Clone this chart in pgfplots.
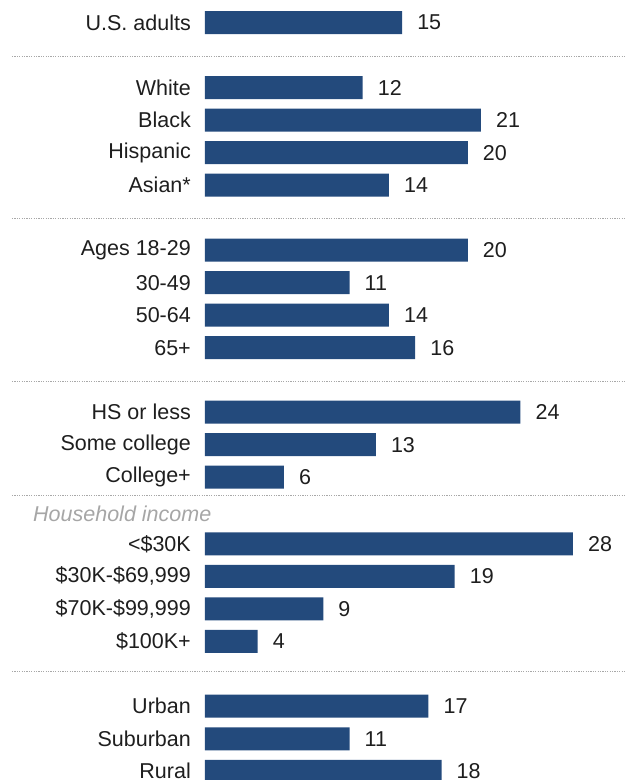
\documentclass[border=0pt]{standalone}
\usepackage{pgfplots}
\pgfplotsset{compat=1.18}
\usepackage{fontspec}
\setmainfont{Liberation Sans}
\definecolor{barblue}{HTML}{234A7C}
\definecolor{txt}{HTML}{1E1E1E}
\definecolor{sep}{HTML}{A8A8A8}
\definecolor{grp}{HTML}{A6A6A6}
\newcommand{\lbl}{\fontsize{21.5}{24}\selectfont}
\tikzset{sepline/.style={sep, line width=1.2pt, dash pattern=on 1.2pt off 1.2pt}}
\begin{document}
\begin{tikzpicture}
\begin{axis}[
  scale only axis,
  width=421pt, height=780pt,
  xmin=0, xmax=32.04,
  ymin=-780, ymax=0,
  xbar, bar width=23pt,
  axis line style={draw=none},
  xtick=\empty,
  major tick length=0pt,
  ytick={-22.7,-87.7,-120.2,-152.7,-185.2,-250.2,-282.7,-315.2,-347.7,-412.2,-444.7,-477.2,-543.8,-576.3,-608.8,-641.3,-706.2,-738.8,-771.3},
  yticklabels={U.S. adults,White,Black,Hispanic,Asian*,Ages 18-29,30-49,50-64,65+,HS or less,Some college,College+,<\$30K,{\$30K-\$69,999},{\$70K-\$99,999},\$100K+,Urban,Suburban,Rural},
  yticklabel style={font=\lbl, text=txt, inner sep=0pt, anchor=east, xshift=-14pt},
  nodes near coords,
  nodes near coords style={font=\lbl, text=txt, anchor=west, inner sep=0pt, xshift=15pt},
  /pgf/number format/assume math mode=true,
  clip=false,
]
\addplot[fill=barblue, draw=none] coordinates {
(15,-22.7) (12,-87.7) (21,-120.2) (20,-152.7) (14,-185.2)
(20,-250.2) (11,-282.7) (14,-315.2) (16,-347.7)
(24,-412.2) (13,-444.7) (6,-477.2)
(28,-543.8) (19,-576.3) (9,-608.8) (4,-641.3)
(17,-706.2) (11,-738.8) (18,-771.3)
};
\draw[sepline] (axis cs:-14.69,-56.7) -- (axis cs:32.04,-56.7);
\draw[sepline] (axis cs:-14.69,-218.7) -- (axis cs:32.04,-218.7);
\draw[sepline] (axis cs:-14.69,-381.7) -- (axis cs:32.04,-381.7);
\draw[sepline] (axis cs:-14.69,-495.7) -- (axis cs:32.04,-495.7);
\draw[sepline] (axis cs:-14.69,-671.7) -- (axis cs:32.04,-671.7);
\node[anchor=west, inner sep=0pt, font=\lbl\itshape, text=grp] at (axis cs:-13.09,-514) {Household income};
\end{axis}
\pgfresetboundingbox
\path[use as bounding box] (current axis.south west) ++(-205pt,0pt) rectangle (current axis.north east);
\end{tikzpicture}
\end{document}
